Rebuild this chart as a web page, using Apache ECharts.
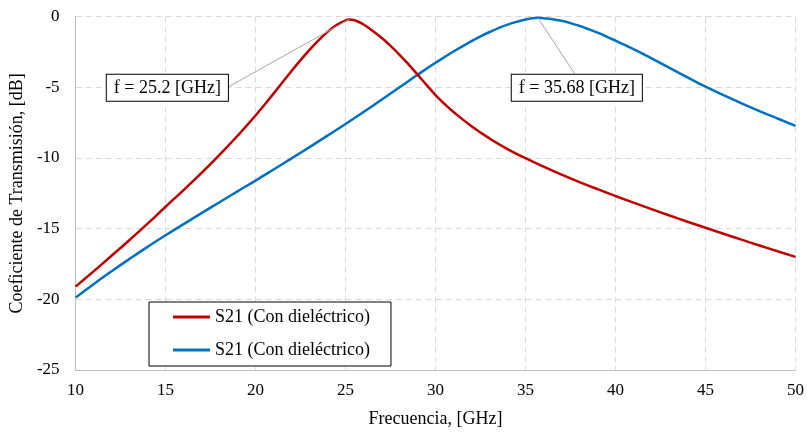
<!DOCTYPE html>
<html>
<head>
<meta charset="utf-8">
<script src="https://cdn.jsdelivr.net/npm/echarts@6/dist/echarts.min.js"></script>
<style>
html,body{margin:0;padding:0;background:#fff;}
#c{width:807px;height:433px;}
</style>
</head>
<body>
<div id="c"></div>
<script>
var redFreq = [10, 11, 12, 13, 14, 15, 16, 17, 18, 19, 20, 21, 22, 22.5, 23, 23.5, 24, 24.5, 25, 25.2, 25.5, 26, 26.5, 27, 27.5, 28, 28.5, 29, 29.5, 30, 30.5, 31, 32, 33, 34, 35, 36, 37, 38, 39, 40, 41, 42, 43, 44, 45, 46, 47, 48, 49, 50];
var redDb   = [-19.1, -18.02, -16.92, -15.8, -14.65, -13.45, -12.27, -11.05, -9.77, -8.43, -7.0, -5.45, -3.85, -3.08, -2.35, -1.68, -1.08, -0.6, -0.27, -0.2, -0.26, -0.56, -1.0, -1.5, -2.07, -2.7, -3.38, -4.1, -4.83, -5.55, -6.18, -6.75, -7.75, -8.62, -9.37, -10.02, -10.62, -11.18, -11.71, -12.21, -12.69, -13.16, -13.62, -14.07, -14.51, -14.94, -15.36, -15.78, -16.19, -16.6, -17.0];
var blueFreq = [10, 11, 12, 13, 14, 15, 16, 17, 18, 19, 20, 21, 22, 23, 24, 25, 26, 27, 28, 29, 30, 31, 32, 32.5, 33, 33.5, 34, 34.5, 35, 35.5, 35.68, 36, 36.5, 37, 37.5, 38, 38.5, 39, 39.5, 40, 41, 42, 43, 44, 45, 46, 47, 48, 49, 50];
var blueDb   = [-19.88, -18.93, -18.02, -17.14, -16.29, -15.47, -14.68, -13.9, -13.13, -12.36, -11.6, -10.82, -10.03, -9.23, -8.42, -7.6, -6.75, -5.88, -5.0, -4.12, -3.27, -2.47, -1.74, -1.4, -1.09, -0.81, -0.57, -0.37, -0.21, -0.1, -0.08, -0.11, -0.18, -0.3, -0.46, -0.66, -0.89, -1.14, -1.41, -1.7, -2.3, -2.95, -3.62, -4.3, -4.96, -5.56, -6.13, -6.68, -7.21, -7.73];
var seriesNames = ['S21 (Con dieléctrico)', 'S21 (Con dieléctrico)'];
var redPeak = [25.2, -0.2];
var bluePeak = [35.68, -0.08];
var redLabel = 'f = 25.2 [GHz]';
var blueLabel = 'f = 35.68 [GHz]';
var redLabelAt = [15.1, -5.04];
var redLeaderEnd = [18.4, -5.04];
var blueLabelAt = [37.85, -5.04];
var blueLeaderEnd = [37.74, -4.05];

function zip(a, b) { return a.map(function (v, i) { return [v, b[i]]; }); }

var FONT = 'Liberation Serif';
var chart = echarts.init(document.getElementById('c'), null, {renderer: 'canvas'});

function labelPoint(at, text) {
  return {
    symbol: 'rect', symbolSize: 1, itemStyle: {color: 'rgba(0,0,0,0)'},
    silent: true,
    label: {
      show: true, position: 'inside', formatter: text,
      color: '#000', fontFamily: FONT, fontSize: 18, lineHeight: 18,
      backgroundColor: '#fff', borderColor: '#000', borderWidth: 1,
      padding: [4, 7, 4, 7]
    },
    data: [{coord: at}]
  };
}
function leader(a, b) {
  return {
    symbol: ['none', 'none'], silent: true,
    label: {show: false},
    lineStyle: {color: '#a6a6a6', width: 1, type: 'solid'},
    emphasis: {disabled: true},
    data: [[{coord: a}, {coord: b}]]
  };
}

chart.setOption({
  animation: false,
  grid: {left: 75.5, right: 9.5, top: 16.6, bottom: 62, containLabel: false},
  legend: {
    orient: 'vertical', left: 149, top: 302,
    data: ['red', 'blue'],
    formatter: function (n) { return n === 'red' ? seriesNames[0] : seriesNames[1]; },
    icon: 'rect', itemWidth: 37, itemHeight: 3, itemGap: 15,
    padding: [6, 21, 7, 24],
    borderColor: '#000', borderWidth: 1, backgroundColor: '#fff',
    textStyle: {fontFamily: FONT, fontSize: 18, color: '#000', lineHeight: 18}
  },
  xAxis: {
    type: 'value', min: 10, max: 50, interval: 5,
    name: 'Frecuencia, [GHz]', nameLocation: 'middle', nameGap: 40,
    nameTextStyle: {fontFamily: FONT, fontSize: 18, color: '#000'},
    axisLine: {show: true, onZero: false, lineStyle: {color: '#bfbfbf', width: 1}},
    axisTick: {show: false},
    axisLabel: {fontFamily: FONT, fontSize: 17, color: '#000', margin: 12},
    splitLine: {show: true, lineStyle: {color: '#d9d9d9', type: [6, 4], width: 1}}
  },
  yAxis: {
    type: 'value', min: -25, max: 0, interval: 5,
    name: 'Coeficiente de Transmisión, [dB]', nameLocation: 'middle', nameGap: 42,
    nameTextStyle: {fontFamily: FONT, fontSize: 18, color: '#000'},
    axisLine: {show: true, onZero: false, lineStyle: {color: '#bfbfbf', width: 1}},
    axisTick: {show: false},
    axisLabel: {fontFamily: FONT, fontSize: 17, color: '#000', margin: 16},
    splitLine: {show: true, lineStyle: {color: '#d9d9d9', type: [6, 4], width: 1}}
  },
  series: [
    {
      name: 'red', type: 'line', data: zip(redFreq, redDb), smooth: true,
      showSymbol: false, symbol: 'none',
      lineStyle: {color: '#C00000', width: 2.5}, itemStyle: {color: '#C00000'},
      markLine: leader(redPeak, redLeaderEnd),
      markPoint: labelPoint(redLabelAt, redLabel), z: 3
    },
    {
      name: 'blue', type: 'line', data: zip(blueFreq, blueDb), smooth: true,
      showSymbol: false, symbol: 'none',
      lineStyle: {color: '#0070C0', width: 2.5}, itemStyle: {color: '#0070C0'},
      markLine: leader(bluePeak, blueLeaderEnd),
      markPoint: labelPoint(blueLabelAt, blueLabel), z: 2
    }
  ]
});
</script>
</body>
</html>
